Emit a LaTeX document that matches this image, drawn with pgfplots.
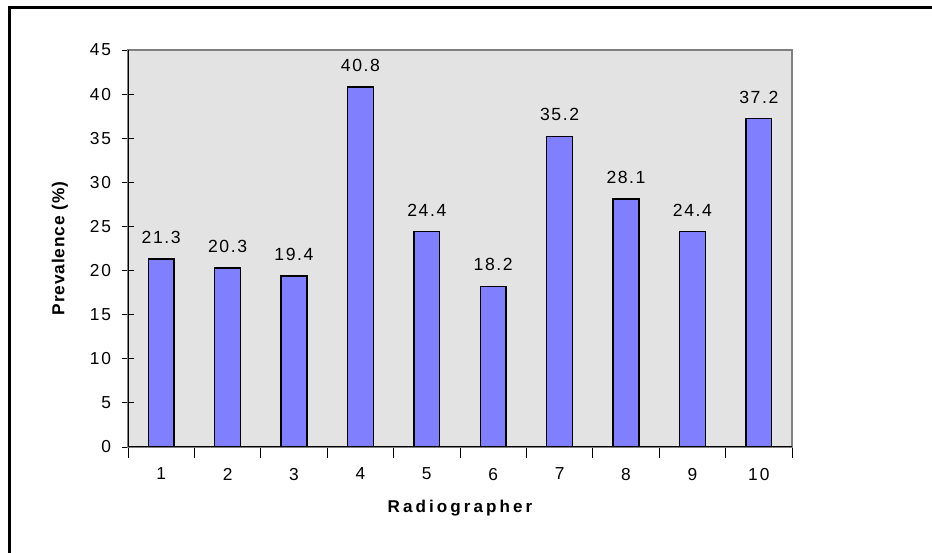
\documentclass[border=0pt]{standalone}
\usepackage{pgfplots}
\pgfplotsset{compat=1.18}
\usepackage{fontspec}
\setmainfont{Liberation Sans}
\newfontfamily\spaced[LetterSpace=12]{Liberation Sans}
\newfontfamily\spaceddat[LetterSpace=9]{Liberation Sans}
\newfontfamily\spacedlab[LetterSpace=18]{Liberation Sans}
\newfontfamily\spacedy[LetterSpace=5]{Liberation Sans}
\definecolor{barblue}{HTML}{8080FF}
\definecolor{bggray}{HTML}{E3E3E3}
\begin{document}
\begin{tikzpicture}
\path[use as bounding box] (0pt,0pt) rectangle (699pt,414.75pt);
\draw[line width=2.25pt] (6.75pt,-5pt) -- (6.75pt,409pt) -- (705pt,409pt);
\begin{axis}[
  at={(96pt,79.5pt)}, anchor=south west,
  scale only axis, width=498pt, height=297.75pt,
  xmin=0.5, xmax=10.5, ymin=0, ymax=45,
  ytick={0,5,...,45},
  xtick={0.5,1.5,...,10.5},
  x tick label as interval,
  xticklabels={1,2,3,4,5,6,7,8,9,10},
  xtick pos=bottom, ytick pos=left,
  tick align=center,
  major tick length=8.25pt,
  every tick/.style={black, line width=0.6pt},
  axis background/.style={fill=bggray},
  axis line style={draw=gray, line width=0.8pt},
  /pgf/number format/assume math mode=true,
  tick label style={font=\spaced\fontsize{13}{15}\selectfont},
  yticklabel style={xshift=-5pt},
  xticklabel style={yshift=-4pt},
  ybar, bar width=0.39,
  nodes near coords,
  nodes near coords style={font=\spaceddat\fontsize{13.2}{15}\selectfont, anchor=base, yshift=11.8pt,
    /pgf/number format/.cd, fixed, precision=1, fixed zerofill, assume math mode=true},
  xlabel={Radiographer},
  ylabel={Prevalence (\%)},
  xlabel style={font=\spacedlab\bfseries\fontsize{12.8}{15}\selectfont, at={(axis description cs:0.5,-0.1537)}, anchor=center},
  ylabel style={font=\spacedy\bfseries\fontsize{13}{15}\selectfont, at={(axis description cs:-0.1024,0.5)}, anchor=center},
]
\addplot[fill=barblue, draw=black, line width=1pt] coordinates {
  (1,21.3) (2,20.3) (3,19.4) (4,40.8) (5,24.4)
  (6,18.2) (7,35.2) (8,28.1) (9,24.4) (10,37.2)
};
\draw[black, line width=0.8pt] (rel axis cs:0,1) -- (rel axis cs:0,0) -- (rel axis cs:1,0);
\end{axis}
\end{tikzpicture}
\end{document}
